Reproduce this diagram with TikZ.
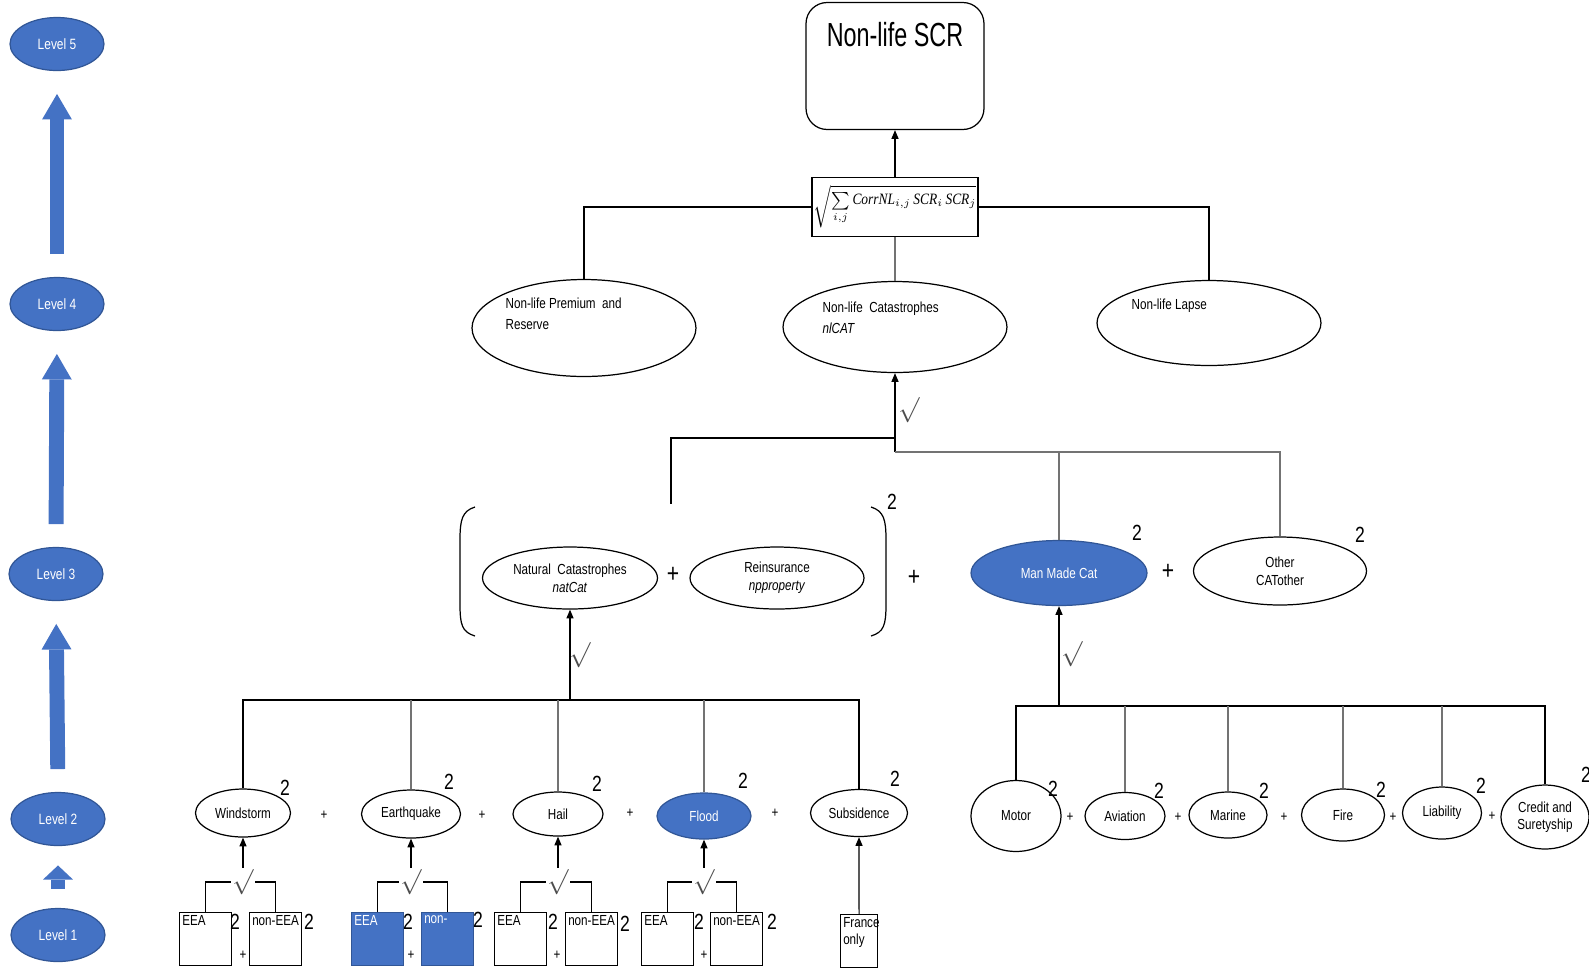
\documentclass[tikz,border=0pt]{standalone}
\usepackage{fontspec}
\setmainfont{Liberation Sans}[FakeStretch=0.8]
\newfontfamily\titlefont{Liberation Sans}[FakeStretch=0.7]
\newfontfamily\formfont{Liberation Serif}[FakeStretch=0.85]
\usetikzlibrary{
  arrows.meta,
  shapes.geometric
}
\definecolor{lvlblue}{RGB}{68,114,196}
\definecolor{lvledge}{RGB}{49,86,150}
\newcommand\nodefont{\fontsize{8.3}{10}\selectfont}
\newcommand\supfont{\fontsize{12.5}{14}\selectfont}

\begin{document}
\begin{tikzpicture}[
  x=0.02cm,
  y=-0.02cm,
  line width=0.7pt,
  lvl/.style={ellipse, fill=lvlblue, draw=lvledge, text=white, minimum width=1.88cm,
    minimum height=1.06cm, inner sep=0pt, font=\fontsize{8.5}{10}\selectfont},
  lvlarrow/.style={draw=lvlblue, line width=8.5pt, shorten <=13pt, shorten >=13pt,
    -{Triangle[length=14.5pt,width=17pt,line width=0pt]}},
  oval/.style={ellipse, draw, inner sep=0pt, align=center, font=\nodefont},
  filled/.style={fill=lvlblue, draw=lvledge, text=white},
  txt/.style={anchor=north west, inner sep=0pt, align=left, font=\nodefont},
  box/.style={draw, anchor=north west, minimum width=1.04cm, minimum height=1.06cm, inner sep=0pt},
  sq/.style={font=\supfont, inner sep=0pt},
  plus/.style={font=\nodefont, inner sep=0pt},
  bigplus/.style={font=\fontsize{15}{16}\selectfont, inner sep=0pt},
  root/.style={font=\fontsize{15}{16}\selectfont, text=black!70, inner sep=0.5pt},
  arr/.style={-{Triangle[length=5pt,width=4pt]}},
  drop/.style={draw=black!55}
]
\useasboundingbox (0,0) rectangle (1589,968);

\node[lvl] (lvl5) at (57,44) {Level 5};
\node[lvl] (lvl4) at (57,304) {Level 4};
\node[lvl] (lvl3) at (56,574) {Level 3};
\node[lvl] (lvl2) at (58,819) {Level 2};
\node[lvl] (lvl1) at (58,935) {Level 1};
\draw[lvlarrow] (lvl4.north) -- (lvl5.south);
\draw[lvlarrow] (lvl3.north) -- (lvl4.south);
\draw[lvlarrow] (lvl2.north) -- (lvl3.south);
\draw[lvlarrow, shorten <=11pt, shorten >=11pt, -{Triangle[length=8pt,width=17pt,line width=0pt]}]
  (lvl1.north) -- (lvl2.south);

\node[draw, rounded corners=12pt, minimum width=3.56cm, minimum height=2.54cm,
  label={[anchor=north, yshift=-0.28cm, font=\titlefont\fontsize{19}{22}\selectfont]north:Non-life SCR}]
  (scr) at (895,66) {};
\node[draw, line width=1pt, minimum width=3.18cm, minimum height=1.18cm, inner sep=1pt]
  (form) at (895,207)
  {\fontsize{9}{10}\selectfont$\sqrt{\sum\limits_{i,j}\mbox{\formfont\itshape CorrNL}_{i,j}\,
    \mbox{\formfont\itshape SCR}_i\,\mbox{\formfont\itshape SCR}_j}$};
\draw[arr] (form.north) -- (scr.south);

\node[oval, minimum width=4.48cm, minimum height=1.94cm] (prem) at (584,328) {};
\node[oval, minimum width=4.48cm, minimum height=1.82cm] (nlcat) at (895,327) {};
\node[oval, minimum width=4.48cm, minimum height=1.70cm] (lapse) at (1209,323) {};
\node[txt] (prem-txt) at (505,297) {Non-life Premium \ and\\[2pt]Reserve};
\node[txt] (nlcat-txt) at (822,301) {Non-life \ Catastrophes\\[2pt]\textit{nlCAT}};
\node[txt] (lapse-txt) at (1131,298) {Non-life Lapse};
\draw (form.west) -| (prem.north);
\draw (form.east) -| (lapse.north);
\draw[drop] (form.south) -- (nlcat.north);

\node[oval, minimum width=3.5cm, minimum height=1.24cm] (natcat) at (570,578)
  {Natural \ Catastrophes\\\textit{natCat}};
\node[bigplus] (plus-nat) at (673,575) {+};
\node[oval, minimum width=3.48cm, minimum height=1.24cm] (reins) at (777,578)
  {Reinsurance\\\textit{npproperty}};
\node[bigplus] (plus-mm) at (914,578) {+};
\node[oval, filled, minimum width=3.52cm, minimum height=1.30cm] (manmade) at (1059,573) {Man Made Cat};
\node[bigplus] (plus-oth) at (1168,572) {+};
\node[oval, minimum width=3.46cm, minimum height=1.36cm] (other) at (1280,571) {Other\\CATother};
\node[sq] (sq-nat) at (892,502) {2};
\node[sq] (sq-mm) at (1137,533) {2};
\node[sq] (sq-oth) at (1360,535) {2};
\draw (475,507) .. controls (462,511) and (460,520) .. (460,540) -- (460,604)
  .. controls (460,625) and (462,632) .. (475,636);
\draw (871,507) .. controls (884,511) and (886,520) .. (886,540) -- (886,604)
  .. controls (886,625) and (884,632) .. (871,636);

\coordinate (cat-l) at (895,438);
\coordinate (cat-j) at (895,452);
\coordinate (nat-top) at (671,504);
\node[root] (rt-cat) at (909,410) {$\surd$};
\draw[arr] (cat-j) -- (nlcat.south);
\draw (cat-l) -| (nat-top);
\draw[drop] (cat-j) -| (other.north);
\draw[drop] (manmade.north) |- (cat-j);

\node[oval, minimum width=1.9cm, minimum height=0.96cm] (ws) at (243,813) {Windstorm};
\node[oval, minimum width=1.98cm, minimum height=0.96cm] (eq) at (411,814) {Earthquake};
\node[oval, minimum width=1.8cm, minimum height=0.88cm] (hail) at (558,814) {Hail};
\node[oval, filled, minimum width=1.88cm, minimum height=0.92cm] (flood) at (704,816) {Flood};
\node[oval, minimum width=1.94cm, minimum height=0.94cm] (sub) at (859,813) {Subsidence};
\node[plus] (plus-eq) at (324,815) {+};
\node[plus] (plus-hail) at (482,815) {+};
\node[plus] (plus-flood) at (630,813) {+};
\node[plus] (plus-sub) at (775,813) {+};
\node[sq] (sq-ws) at (285,788) {2};
\node[sq] (sq-eq) at (449,782) {2};
\node[sq] (sq-hail) at (597,784) {2};
\node[sq] (sq-flood) at (743,781) {2};
\node[sq] (sq-sub) at (895,779) {2};

\coordinate (nat-j) at (570,700);
\node[root] (rt-nat) at (580,655) {$\surd$};
\draw[arr] (nat-j) -- (natcat.south);
\draw (ws.north) |- (nat-j);
\draw (sub.north) |- (nat-j);
\foreach \n in {eq,hail,flood}
  \draw[drop] (\n.north) -- (\n.north |- nat-j);

\node[oval, minimum width=1.8cm, minimum height=1.42cm] (motor) at (1016,816) {Motor};
\node[oval, minimum width=1.6cm, minimum height=0.94cm] (avi) at (1125,816) {Aviation};
\node[oval, minimum width=1.56cm, minimum height=0.92cm] (marine) at (1228,815) {Marine};
\node[oval, minimum width=1.66cm, minimum height=1.04cm] (fire) at (1343,815) {Fire};
\node[oval, minimum width=1.58cm, minimum height=1.04cm] (liab) at (1442,813) {Liability};
\node[oval, minimum width=1.76cm, minimum height=1.28cm] (credit) at (1545,817) {Credit and\\Suretyship};
\node[plus] (plus-avi) at (1070,817) {+};
\node[plus] (plus-mar) at (1178,817) {+};
\node[plus] (plus-fire) at (1284,817) {+};
\node[plus] (plus-liab) at (1393,817) {+};
\node[plus] (plus-cred) at (1492,816) {+};
\node[sq] (sq-motor) at (1053,789) {2};
\node[sq] (sq-avi) at (1159,791) {2};
\node[sq] (sq-mar) at (1264,791) {2};
\node[sq] (sq-fire) at (1381,790) {2};
\node[sq] (sq-liab) at (1481,786) {2};
\node[sq] (sq-cred) at (1586,775) {2};

\coordinate (mm-j) at (1059,706);
\node[root] (rt-mm) at (1072,654) {$\surd$};
\draw[arr] (mm-j) -- (manmade.south);
\draw (motor.north) |- (mm-j);
\draw (credit.north) |- (mm-j);
\foreach \n in {avi,marine,fire,liab}
  \draw[drop] (\n.north) -- (\n.north |- mm-j);

\node[box, label={[anchor=north west, inner sep=1.5pt, font=\nodefont]north west:EEA}] (ws-eea) at (179,912) {};
\node[box, label={[anchor=north west, inner sep=1.5pt, font=\nodefont]north west:non-EEA}] (ws-neea) at (249,912) {};
\node[box, filled, label={[anchor=north west, inner sep=1.5pt, font=\nodefont, text=white]north west:EEA}] (eq-eea) at (351,912) {};
\node[box, filled, label={[anchor=north west, inner sep=1.5pt, font=\nodefont, text=white]north west:non-}] (eq-neea) at (421,912) {};
\node[box, label={[anchor=north west, inner sep=1.5pt, font=\nodefont]north west:EEA}] (hail-eea) at (494,912) {};
\node[box, label={[anchor=north west, inner sep=1.5pt, font=\nodefont]north west:non-EEA}] (hail-neea) at (565,912) {};
\node[box, label={[anchor=north west, inner sep=1.5pt, font=\nodefont]north west:EEA}] (flood-eea) at (641,912) {};
\node[box, label={[anchor=north west, inner sep=1.5pt, font=\nodefont]north west:non-EEA}] (flood-neea) at (710,912) {};
\node[box, minimum width=0.74cm, label={[anchor=north west, inner sep=1.5pt, align=left, font=\nodefont]north west:France\\only}] (fr) at (840,914) {};
\node[sq] (sq-ws1) at (235,922) {2};
\node[sq] (sq-ws2) at (309,922) {2};
\node[sq] (sq-eq1) at (408,922) {2};
\node[sq] (sq-eq2) at (478,920) {2};
\node[sq] (sq-hail1) at (553,922) {2};
\node[sq] (sq-hail2) at (625,924) {2};
\node[sq] (sq-flood1) at (699,922) {2};
\node[sq] (sq-flood2) at (772,922) {2};
\node[plus] (plus-ws1) at (243,955) {+};
\node[plus] (plus-eq1) at (411,955) {+};
\node[plus] (plus-hail1) at (557,955) {+};
\node[plus] (plus-flood1) at (704,955) {+};

\node[root] (ws-rt) at (243,882) {$\surd$};
\node[root] (eq-rt) at (411,882) {$\surd$};
\node[root] (hail-rt) at (558,882) {$\surd$};
\node[root] (flood-rt) at (704,882) {$\surd$};
\foreach \n in {ws,eq,hail,flood} {
  \draw (\n-eea.north) |- (\n-rt.west);
  \draw (\n-neea.north) |- (\n-rt.east);
  \draw[arr] (\n-rt.north) -- (\n.south);
}
\draw[arr] (fr.north) -- (sub.south);
\end{tikzpicture}
\end{document}
